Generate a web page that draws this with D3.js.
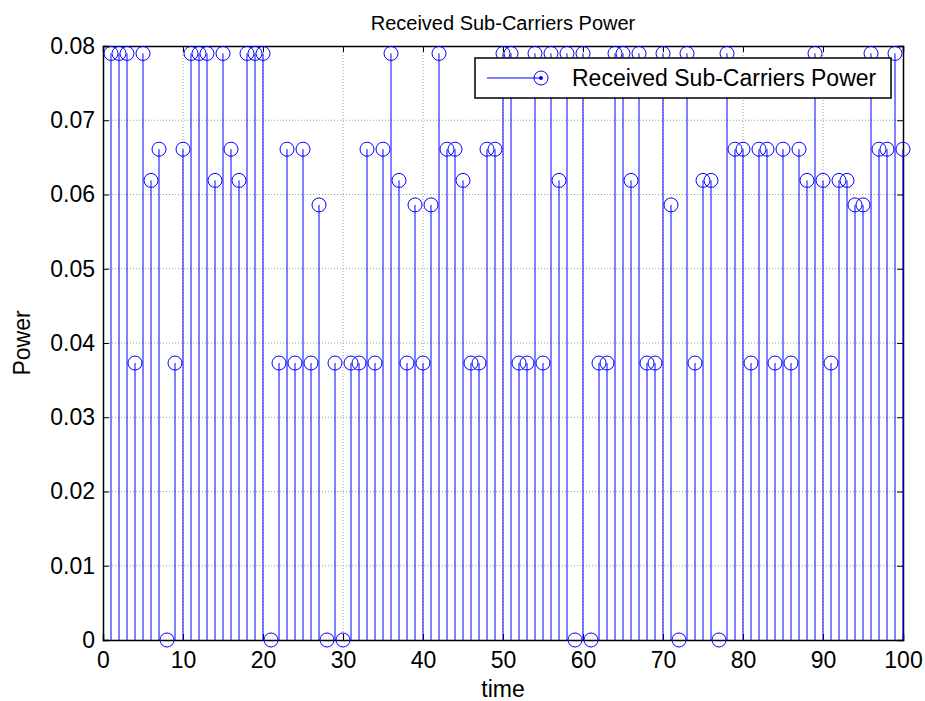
<!DOCTYPE html>
<html>
  <head>
    <title>Received Sub-Carriers Power</title>
    <script src="https://d3js.org/d3.v7.min.js" charset="utf-8"></script>
    <style>
      body { margin: 0; background: #fff; }
      svg text { font-family: "Liberation Sans", Arial, sans-serif; fill: #000; }
    </style>
  </head>
  <body>
    <svg></svg>
    <script>
      // power of each sub-carrier, time = 1..100
      const times = d3.range(1, 101);
      const power = [
        0.079, 0.079, 0.079, 0.0373, 0.079, 0.0619, 0.0661, 0, 0.0373, 0.0661,
        0.079, 0.079, 0.079, 0.0619, 0.079, 0.0661, 0.0619, 0.079, 0.079, 0.079,
        0, 0.0373, 0.0661, 0.0373, 0.0661, 0.0373, 0.0586, 0, 0.0373, 0,
        0.0373, 0.0373, 0.0661, 0.0373, 0.0661, 0.079, 0.0619, 0.0373, 0.0586, 0.0373,
        0.0586, 0.079, 0.0661, 0.0661, 0.0619, 0.0373, 0.0373, 0.0661, 0.0661, 0.079,
        0.079, 0.0373, 0.0373, 0.079, 0.0373, 0.079, 0.0619, 0.079, 0, 0.079,
        0, 0.0373, 0.0373, 0.079, 0.079, 0.0619, 0.079, 0.0373, 0.0373, 0.079,
        0.0586, 0, 0.079, 0.0373, 0.0619, 0.0619, 0, 0.079, 0.0661, 0.0661,
        0.0373, 0.0661, 0.0661, 0.0373, 0.0661, 0.0373, 0.0661, 0.0619, 0.079, 0.0619,
        0.0373, 0.0619, 0.0619, 0.0586, 0.0586, 0.079, 0.0661, 0.0661, 0.079, 0.0661
      ];
      const xTicks = d3.range(0, 101, 10);
      const yTicks = d3.range(0, 0.0801, 0.01);
      const seriesName = "Received Sub-Carriers Power";

      const margin = { top: 46, right: 22, bottom: 61, left: 103 };
      const W = 925, H = 701;
      const width = W - margin.left - margin.right;
      const height = H - margin.top - margin.bottom;
      const blue = "#0000ff";
      const fs = 23;

      const svg = d3.select("svg").attr("width", W).attr("height", H);
      const g = svg.append("g").attr("transform", `translate(${margin.left},${margin.top})`);

      const x = d3.scaleLinear().domain([0, 100]).range([0, width]);
      const y = d3.scaleLinear().domain([0, 0.08]).range([height, 0]);

      // grid
      g.append("g").selectAll("line").data(xTicks.slice(1, -1)).join("line")
        .attr("x1", d => x(d)).attr("x2", d => x(d)).attr("y1", 0).attr("y2", height)
        .attr("stroke", "#a0a0a0").attr("stroke-dasharray", "1,2");
      g.append("g").selectAll("line").data(yTicks.slice(1, -1)).join("line")
        .attr("y1", d => y(d)).attr("y2", d => y(d)).attr("x1", 0).attr("x2", width)
        .attr("stroke", "#a0a0a0").attr("stroke-dasharray", "1,2");

      // axes with inward ticks, box
      const xAxis = g.append("g").attr("transform", `translate(0,${height})`)
        .call(d3.axisBottom(x).tickValues(xTicks).tickSize(-6).tickPadding(12).tickFormat(d3.format("d")));
      const xTop = g.append("g")
        .call(d3.axisTop(x).tickValues(xTicks).tickSize(-6).tickFormat(""));
      const yAxis = g.append("g")
        .call(d3.axisLeft(y).tickValues(yTicks).tickSize(-6).tickPadding(8)
          .tickFormat(d => d === 0 ? "0" : d3.format(".2f")(d)));
      const yRight = g.append("g").attr("transform", `translate(${width},0)`)
        .call(d3.axisRight(y).tickValues(yTicks).tickSize(-6).tickFormat(""));
      [xAxis, xTop, yAxis, yRight].forEach(a => {
        a.select(".domain").attr("stroke", "#000").attr("stroke-width", 1.5);
        a.selectAll(".tick line").attr("stroke", "#000");
        a.selectAll("text").attr("font-size", fs).attr("font-family", "Liberation Sans, Arial, sans-serif");
      });

      // stems
      g.append("g").selectAll("line").data(times).join("line")
        .attr("x1", (d) => x(d)).attr("x2", (d) => x(d))
        .attr("y1", y(0)).attr("y2", (d, i) => y(power[i]))
        .attr("stroke", blue).attr("stroke-width", 1);
      g.append("g").selectAll("circle").data(times).join("circle")
        .attr("cx", (d) => x(d)).attr("cy", (d, i) => y(power[i]))
        .attr("r", 7).attr("fill", "none").attr("stroke", blue).attr("stroke-width", 1);

      // title & labels
      svg.append("text").attr("x", margin.left + width / 2).attr("y", 30)
        .attr("text-anchor", "middle").attr("font-size", 20).text(seriesName);
      svg.append("text").attr("x", margin.left + width / 2).attr("y", 697)
        .attr("text-anchor", "middle").attr("font-size", fs).text("time");
      svg.append("text").attr("transform", `translate(30,${margin.top + height / 2}) rotate(-90)`)
        .attr("text-anchor", "middle").attr("font-size", fs).text("Power");

      // legend
      const legend = g.append("g").attr("transform", `translate(${x(46.5)},12)`);
      legend.append("rect").attr("width", x(98.5) - x(46.5)).attr("height", 40)
        .attr("fill", "#fff").attr("stroke", "#000").attr("stroke-width", 1.5);
      legend.append("line").attr("x1", 12).attr("x2", 66).attr("y1", 20).attr("y2", 20)
        .attr("stroke", blue);
      legend.append("circle").attr("cx", 66).attr("cy", 20).attr("r", 7)
        .attr("fill", "none").attr("stroke", blue);
      legend.append("circle").attr("cx", 66).attr("cy", 20).attr("r", 2).attr("fill", blue);
      legend.append("text").attr("x", 97).attr("y", 28).attr("font-size", fs).text(seriesName);
    </script>
  </body>
</html>
